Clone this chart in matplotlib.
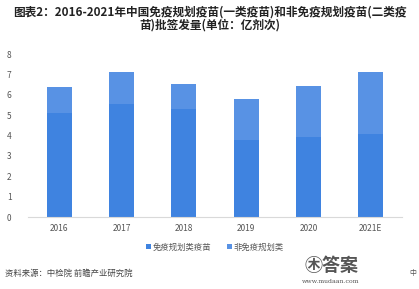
import matplotlib

matplotlib.use("Agg")

import matplotlib.pyplot as plt
import numpy as np

plt.rcParams["font.family"] = ["Noto Sans CJK SC", "DejaVu Sans"]

years = ["2016", "2017", "2018", "2019", "2020", "2021E"]
# 免疫规划类疫苗（一类）与非免疫规划类（二类）批签发量，单位：亿剂次
plan_vaccine = [5.1, 5.55, 5.3, 3.8, 3.95, 4.1]
nonplan_vaccine = [1.3, 1.55, 1.25, 2.0, 2.5, 3.0]
y_ticks = [0, 1, 2, 3, 4, 5, 6, 7, 8]

fig = plt.figure(figsize=(4.19, 2.89), dpi=100)
ax = fig.add_axes([0.067, 0.249, 0.892, 0.564])

x = np.arange(len(years))
ax.bar(x, plan_vaccine, width=0.4, color="#3f83e0", label="免疫规划类疫苗")
ax.bar(x, nonplan_vaccine, width=0.4, bottom=plan_vaccine, color="#5892e4", label="非免疫规划类")

ax.set_xlim(-0.5, len(years) - 0.5)
ax.set_ylim(0, 8)
ax.set_yticks(y_ticks)
ax.set_xticks(x)
ax.set_xticklabels(years)
ax.tick_params(axis="both", length=0, labelsize=6, colors="#555555")
ax.tick_params(axis="x", pad=5)
ax.tick_params(axis="y", pad=12)
for side in ["top", "right", "left"]:
    ax.spines[side].set_visible(False)
ax.spines["bottom"].set_color("#d9d9d9")
ax.spines["bottom"].set_linewidth(0.8)

ax.legend(loc="upper center", bbox_to_anchor=(0.5, -0.11), ncol=2, frameon=False,
          fontsize=6, handlelength=0.6, handleheight=0.6, handletextpad=0.2,
          columnspacing=1.8, labelcolor="#555555")

fig.text(0.5, 0.98, "图表2：2016-2021年中国免疫规划疫苗(一类疫苗)和非免疫规划疫苗(二类疫\n苗)批签发量(单位：亿剂次)",
         ha="center", va="top", fontsize=8.4, fontweight="bold", color="#222222", linespacing=0.95)
fig.text(0.012, 0.055, "资料来源：中检院 前瞻产业研究院", ha="left", va="center", fontsize=6, color="#444444")
fig.text(0.79, 0.08, "㊍答案", ha="center", va="center", fontsize=13, fontweight="bold", color="#555555")
fig.text(0.79, 0.025, "www.mudaan.com", ha="center", va="center", fontsize=4.5, color="#555555",
         family="DejaVu Serif")
fig.text(0.985, 0.055, "中", ha="center", va="center", fontsize=5, color="#555555")

fig.savefig("out.png", dpi=100)
